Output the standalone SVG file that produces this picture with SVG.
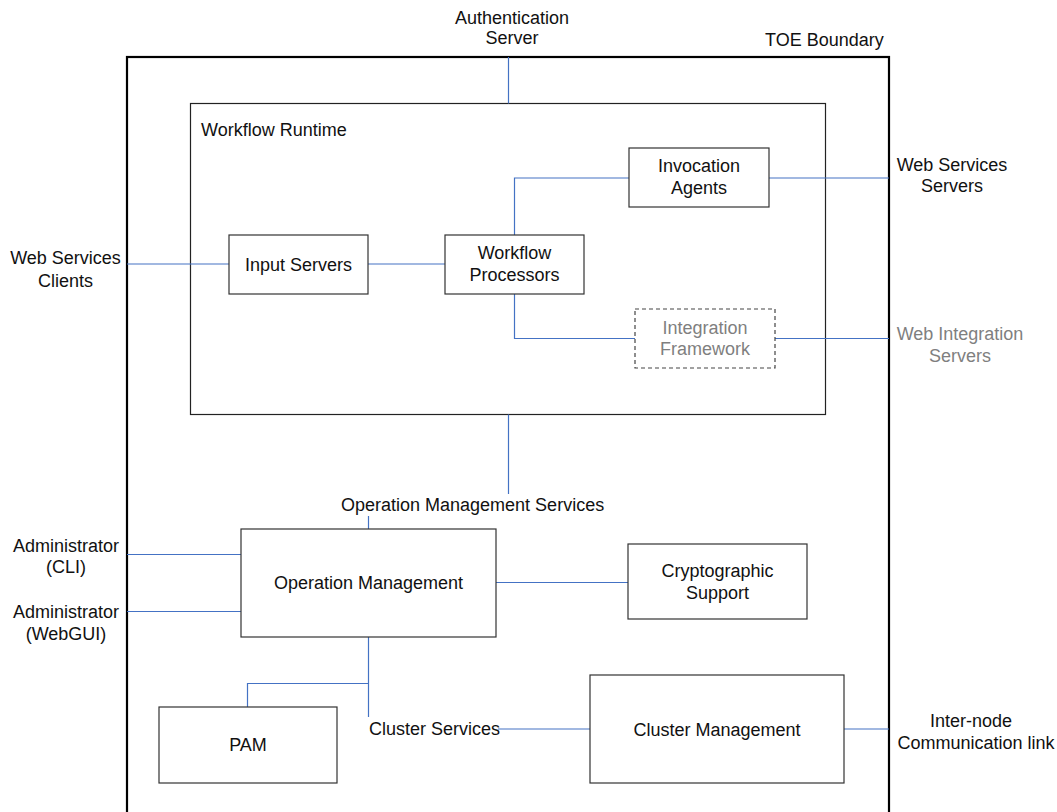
<svg xmlns="http://www.w3.org/2000/svg" width="1057" height="812" viewBox="0 0 1057 812">
<style>
text{font-family:"Liberation Sans",Arial,sans-serif;font-size:18px;fill:#111}
.c{text-anchor:middle}
.g{fill:#7f7f7f}
.box{fill:#fff;stroke:#333;stroke-width:1.2}
.dash{fill:#fff;stroke:#444;stroke-width:1.2;stroke-dasharray:4 3}
.ln{fill:none;stroke:#4472c4;stroke-width:1.2}
</style>
<rect x="0" y="0" width="1057" height="812" fill="#fff"/>
<g id="toe-boundary">
<rect x="127" y="57" width="762" height="770" fill="none" stroke="#000" stroke-width="2.2"/>
<text x="765" y="46">TOE Boundary</text>
</g>
<g id="workflow-runtime">
<rect x="190.5" y="103.5" width="635" height="311" fill="#fff" stroke="#222" stroke-width="1.2"/>
<text x="201" y="136">Workflow Runtime</text>
</g>
<g id="connectors">
<path class="ln" d="M508.5 57 V103.5"/>
<path class="ln" d="M127 264 H229"/>
<path class="ln" d="M368 264 H445"/>
<path class="ln" d="M514.5 235 V178 H629"/>
<path class="ln" d="M769 178 H889"/>
<path class="ln" d="M514.5 294 V338.5 H635"/>
<path class="ln" d="M775 338.5 H889"/>
<path class="ln" d="M508.5 414.5 V494"/>
<path class="ln" d="M368.5 516 V529"/>
<path class="ln" d="M127 554.5 H241"/>
<path class="ln" d="M127 611.5 H241"/>
<path class="ln" d="M496 582.5 H628"/>
<path class="ln" d="M368.5 637 V717"/>
<path class="ln" d="M368.5 683.5 H247.5 V707"/>
<path class="ln" d="M498 729 H590"/>
<path class="ln" d="M844 729 H889"/>
</g>
<g id="authentication-server">
<text class="c" x="512" y="24">Authentication</text>
<text class="c" x="512" y="44">Server</text>
</g>
<g id="web-services-clients">
<text class="c" x="65.5" y="264">Web Services</text>
<text class="c" x="65.5" y="287">Clients</text>
</g>
<g id="web-services-servers">
<text class="c" x="952" y="171">Web Services</text>
<text class="c" x="952" y="192">Servers</text>
</g>
<g id="web-integration-servers">
<text class="c g" x="960" y="340">Web Integration</text>
<text class="c g" x="960" y="362">Servers</text>
</g>
<g id="input-servers">
<rect class="box" x="229" y="235" width="139" height="59"/>
<text class="c" x="298.5" y="270.5">Input Servers</text>
</g>
<g id="workflow-processors">
<rect class="box" x="445" y="235" width="139" height="59"/>
<text class="c" x="514.5" y="259">Workflow</text>
<text class="c" x="514.5" y="280.5">Processors</text>
</g>
<g id="invocation-agents">
<rect class="box" x="629" y="148" width="140" height="59"/>
<text class="c" x="699" y="172">Invocation</text>
<text class="c" x="699" y="194">Agents</text>
</g>
<g id="integration-framework">
<rect class="dash" x="635" y="309" width="140" height="59"/>
<text class="c g" x="705" y="334">Integration</text>
<text class="c g" x="705" y="355">Framework</text>
</g>
<g id="operation-management-services">
<text x="341" y="510.5">Operation Management Services</text>
</g>
<g id="administrator-cli">
<text class="c" x="66" y="552">Administrator</text>
<text class="c" x="66" y="573">(CLI)</text>
</g>
<g id="administrator-webgui">
<text class="c" x="66" y="618">Administrator</text>
<text class="c" x="66" y="640">(WebGUI)</text>
</g>
<g id="operation-management">
<rect class="box" x="241" y="529" width="255" height="108"/>
<text class="c" x="368.5" y="589">Operation Management</text>
</g>
<g id="cryptographic-support">
<rect class="box" x="628" y="544" width="179" height="75"/>
<text class="c" x="717.5" y="576.5">Cryptographic</text>
<text class="c" x="717.5" y="599">Support</text>
</g>
<g id="pam">
<rect class="box" x="159" y="707" width="178" height="76"/>
<text class="c" x="248" y="751">PAM</text>
</g>
<g id="cluster-services">
<text x="369" y="735">Cluster Services</text>
</g>
<g id="cluster-management">
<rect class="box" x="590" y="675" width="254" height="108"/>
<text class="c" x="717" y="735.5">Cluster Management</text>
</g>
<g id="inter-node-link">
<text class="c" x="971" y="726.5">Inter-node</text>
<text class="c" x="976" y="749">Communication link</text>
</g>
</svg>
